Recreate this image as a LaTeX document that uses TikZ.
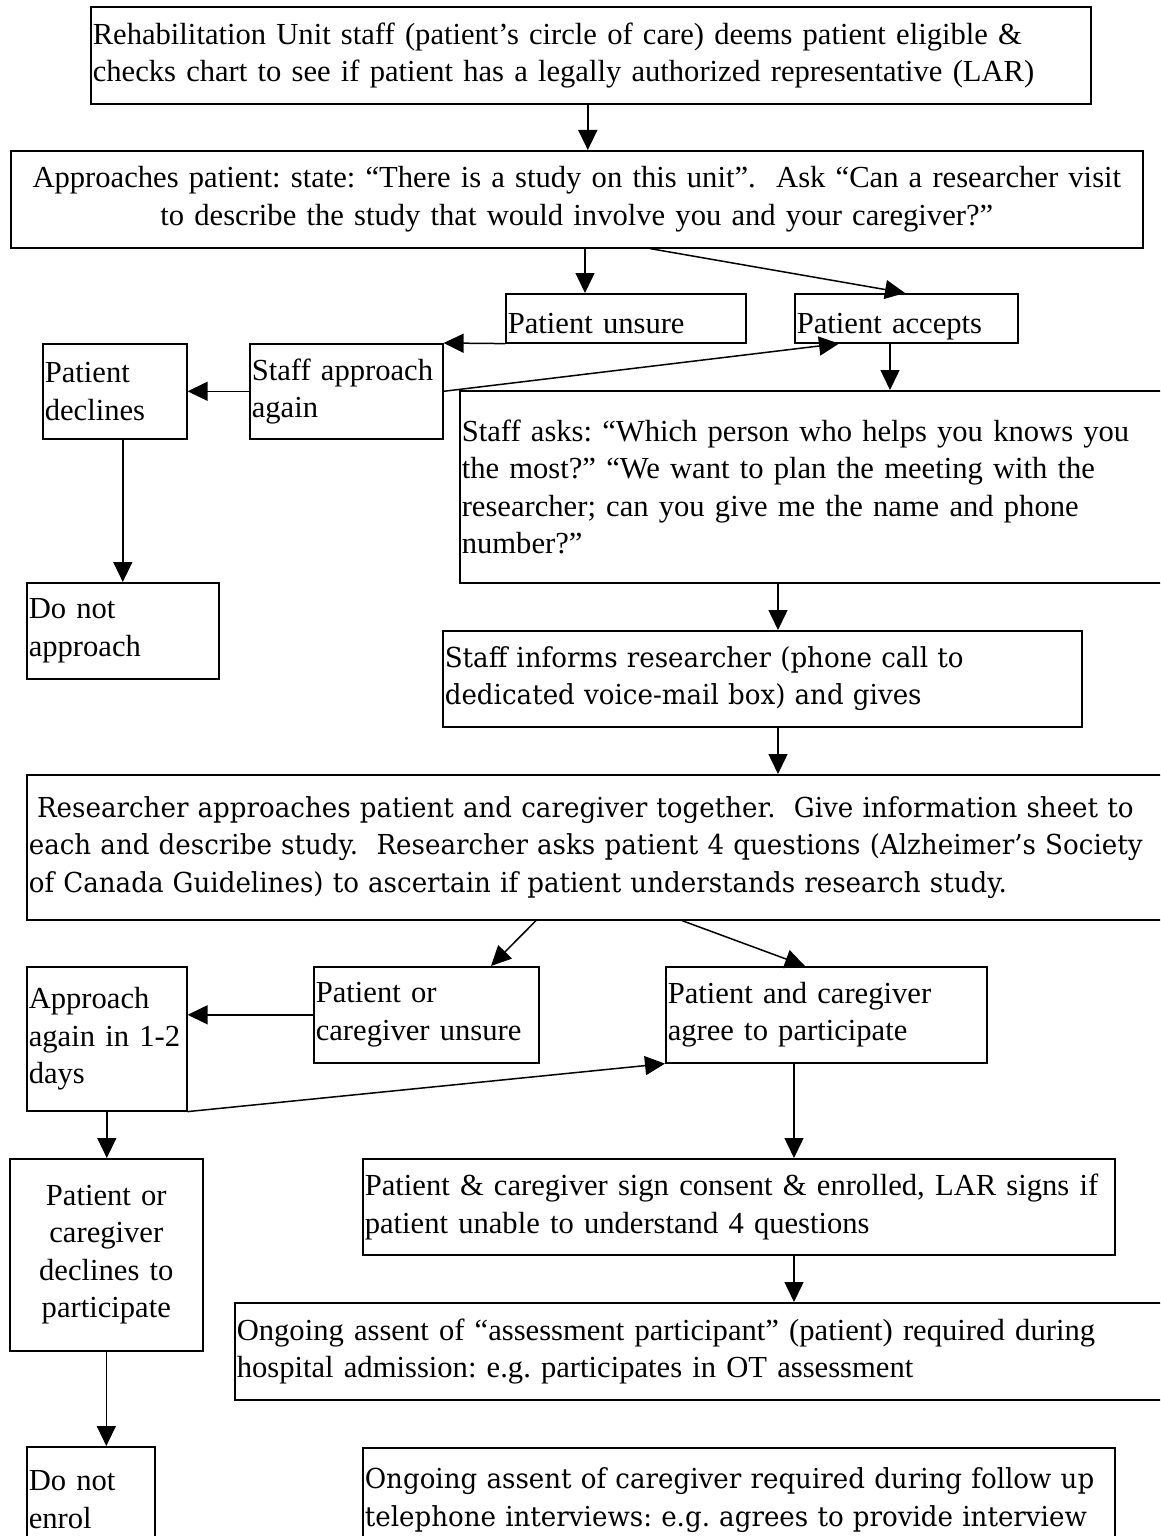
\documentclass[tikz,border=0pt]{standalone}
\usepackage{fontspec}
\setmainfont{Liberation Serif}
\newfontfamily\camfont[FakeStretch=0.95]{DejaVu Serif}
\usetikzlibrary{arrows.meta,calc}
\frenchspacing
\newcommand\mkbox[7]{%
  \pgfmathsetmacro\bw{#4-#2}\pgfmathsetmacro\bh{#5-#3}\pgfmathsetmacro\tw{#4-#2-4}%
  \node[box,#6,anchor=north west,minimum width=\bw pt,minimum height=\bh pt,text width=\tw pt] (#1) at (#2,#3) {#7};}
\begin{document}
\begin{tikzpicture}[x=1pt,y=-1pt,
  box/.style={draw,line width=1.6pt,inner xsep=2pt,inner ysep=0pt,align=left,
    font=\frenchspacing\fontsize{30.6}{37.5}\selectfont},
  cam/.style={font=\frenchspacing\camfont\fontsize{27.5}{37.5}\selectfont},
  ctr/.style={align=center},
  oneline/.style={text height=40pt,text depth=9pt},
  arr/.style={line width=1.5pt,-{Triangle[length=20pt,width=19pt]}}]
\useasboundingbox (0,0) rectangle (1160,1536);
\clip (0,0) rectangle (1160,1536);
\fill[white] (0,0) rectangle (1160,1536);

\mkbox{b1}{90}{6}{1090}{103}{}{Rehabilitation Unit staff (patient’s circle of care) deems patient eligible \&\\checks chart to see if patient has a legally authorized representative (LAR)}
\mkbox{b2}{10}{150}{1142}{247}{ctr}{Approaches patient: state: “There is a study on this unit”.~ Ask “Can a researcher visit\\to describe the study that would involve you and your caregiver?”}
\mkbox{unsure}{505}{293}{745}{342}{oneline}{Patient unsure}
\mkbox{accepts}{794}{293}{1017}{342}{oneline}{Patient accepts}
\mkbox{again}{249}{343}{442}{438}{}{Staff approach\\again}
\mkbox{declines}{42}{343}{186}{438}{}{Patient\\declines}
\mkbox{asks}{459}{390}{1175}{582}{}{Staff asks: “Which person who helps you knows you\\the most?” “We want to plan the meeting with the\\researcher; can you give me the name and phone\\number?”}
\mkbox{dna}{26}{582}{218}{678}{}{Do not\\approach}
\mkbox{informs}{442}{630}{1081}{726}{cam}{Staff informs researcher (phone call to\\dedicated voice-mail box) and gives}
\mkbox{researcher}{26}{774}{1175}{919}{cam}{\hspace*{0.3em}Researcher approaches patient and caregiver together.~ Give information sheet to\\each and describe study.~ Researcher asks patient 4 questions (Alzheimer’s Society\\of Canada Guidelines) to ascertain if patient understands research study.}
\mkbox{pcu}{313}{966}{538}{1062}{}{Patient or\\caregiver unsure}
\mkbox{agree}{665}{966}{986}{1062}{}{Patient and caregiver\\agree to participate}
\mkbox{aa}{26}{966}{186}{1110}{}{Approach\\again in 1-2\\days}
\mkbox{d2}{9}{1158}{202}{1350}{ctr}{Patient or\\caregiver\\declines to\\participate}
\mkbox{enrol}{26}{1446}{154}{1552}{}{Do not\\enrol}
\mkbox{sign}{362}{1158}{1114}{1254}{}{Patient \& caregiver sign consent \& enrolled, LAR signs if\\patient unable to understand 4 questions}
\mkbox{ong1}{234}{1302}{1175}{1399}{}{Ongoing assent of “assessment participant” (patient) required during\\hospital admission: e.g. participates in OT assessment}
\mkbox{ong2}{362}{1447}{1114}{1552}{cam}{Ongoing assent of caregiver required during follow up\\telephone interviews: e.g. agrees to provide interview}

\draw[arr] ([xshift=-3pt]b1.south) -- ([xshift=-3pt]b1.south |- b2.north);
\draw[arr] ([xshift=80pt]unsure.north west |- b2.south) -- ([xshift=80pt]unsure.north west);
\draw[arr] ([xshift=640pt]b2.south west) -- ([xshift=111pt]accepts.north west);
\draw[arr] (unsure.south west) -- (again.north east);
\draw[arr] (again.west) -- (declines.east);
\draw[arr] (again.east) -- ([xshift=45pt]accepts.south west);
\draw[arr] ([xshift=96pt]accepts.south west) -- ([xshift=96pt]accepts.south west |- asks.north);
\draw[arr] (dna.north |- declines.south) -- (dna.north);
\draw[arr] ([xshift=319pt]asks.south west) -- ([xshift=319pt]asks.south west |- informs.north);
\draw[arr] ([xshift=336pt]informs.south west) -- ([xshift=336pt]informs.south west |- researcher.north);
\draw[arr] ([xshift=510pt]researcher.south west) -- ([xshift=178pt]pcu.north west);
\draw[arr] ([xshift=656pt]researcher.south west) -- ([xshift=140pt]agree.north west);
\draw[arr] (pcu.west) -- (pcu.west -| aa.east);
\draw[arr] (aa.south east) -- (agree.south west);
\draw[arr] (aa.south) -- (aa.south |- d2.north);
\draw[arr] (d2.south) -- (d2.south |- enrol.north);
\draw[arr] ([xshift=129pt]agree.south west) -- ([xshift=129pt]agree.south west |- sign.north);
\draw[arr] ([xshift=432pt]sign.south west) -- ([xshift=432pt]sign.south west |- ong1.north);
\end{tikzpicture}
\end{document}
